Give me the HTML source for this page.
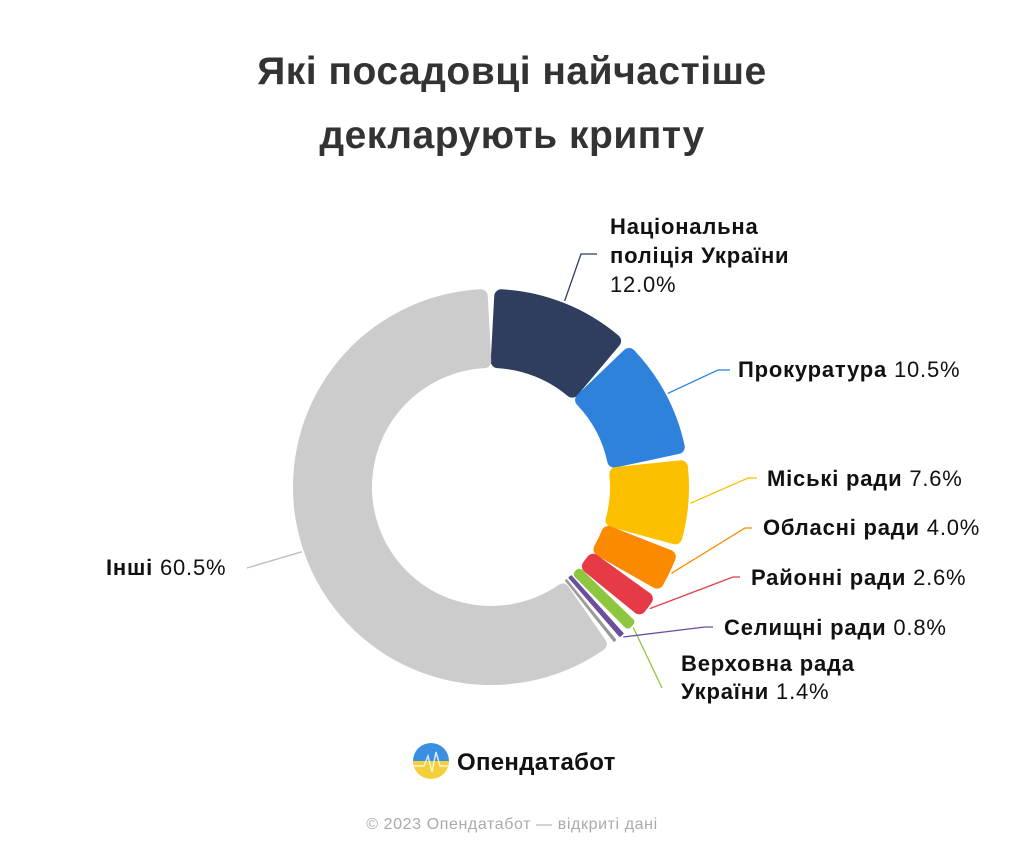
<!DOCTYPE html>
<html><head><meta charset="utf-8"><style>
body{margin:0;background:#fff;}
svg text{font-family:"Liberation Sans","DejaVu Sans",sans-serif;}
</style></head><body>
<svg id="chart" width="1024" height="853" viewBox="0 0 1024 853" xmlns="http://www.w3.org/2000/svg">
<rect width="1024" height="853" fill="#fff"/>
<text x="512" y="84" text-anchor="middle" font-size="39" font-weight="bold" fill="#333" letter-spacing="0.5">Які посадовці найчастіше</text>
<text x="512" y="148" text-anchor="middle" font-size="39" font-weight="bold" fill="#333" letter-spacing="0.5">декларують крипту</text>
<g id="slices"></g>
<g id="labels" font-size="22" letter-spacing="0.8" fill="#111"></g>
<g>
<defs><linearGradient id="lg" x1="0" y1="0" x2="0" y2="1"><stop offset="0.5" stop-color="#3a8fe0"/><stop offset="0.5" stop-color="#f5cf3a"/></linearGradient></defs>
<circle cx="431" cy="761" r="18" fill="url(#lg)"/>
<polyline points="414,766 424,766 428,756 432,772 436,752 440,766 448,766" fill="none" stroke="#fff" stroke-width="1.5" opacity="0.8"/>
<text x="457" y="770" font-size="24" font-weight="bold" fill="#111" letter-spacing="0.3">Опендатабот</text>
</g>
<text x="512" y="829" text-anchor="middle" font-size="16" fill="#aaa" letter-spacing="0.6">© 2023 Опендатабот — відкриті дані</text>
</svg>
<script>
const categories = ["Національна поліція України","Прокуратура","Міські ради","Обласні ради","Районні ради","Верховна рада України","Селищні ради","Інше (мале)","Інші"];
const values = [12.0,10.5,7.6,4.0,2.6,1.4,0.8,0.6,60.5];
const valueLabels = ["12.0%","10.5%","7.6%","4.0%","2.6%","1.4%","0.8%","","60.5%"];
const colors = ["#2f3d5e","#2f82db","#fcc000","#fb8a00","#e63b47","#8dc63f","#6b4f9e","#999999","#cccccc"];
const cx=491, cy=487, R=198, r0=119;
const svgNS="http://www.w3.org/2000/svg";
const g=document.getElementById('slices');
const total=values.reduce((a,b)=>a+b,0);
function pt(rad,a){return [cx+rad*Math.sin(a), cy-rad*Math.cos(a)];}
let acc=0;
const mids=[];
values.forEach((v,i)=>{
  const a0=acc/total*2*Math.PI, a1=(acc+v)/total*2*Math.PI; acc+=v;
  mids.push((a0+a1)/2);
  const midR=(R+r0)/2;
  const arcLen=(a1-a0)*midR;
  const sw=Math.max(1,Math.min(14,arcLen-6));
  const h=sw/2;
  let b0=a0+(h+1.5)/midR, b1=a1-(h+1.5)/midR;
  if(b1<b0){const m=(a0+a1)/2;b0=m-0.0005;b1=m+0.0005;}
  const ro=R-h, ri=r0+h;
  const large=(b1-b0)>Math.PI?1:0;
  const p1=pt(ro,b0),p2=pt(ro,b1),p3=pt(ri,b1),p4=pt(ri,b0);
  const d=`M${p1[0]},${p1[1]} A${ro},${ro} 0 ${large} 1 ${p2[0]},${p2[1]} L${p3[0]},${p3[1]} A${ri},${ri} 0 ${large} 0 ${p4[0]},${p4[1]} Z`;
  const p=document.createElementNS(svgNS,'path');
  p.setAttribute('d',d);p.setAttribute('fill',colors[i]);p.setAttribute('stroke',colors[i]);
  p.setAttribute('stroke-width',sw);p.setAttribute('stroke-linejoin','round');
  
  
  g.appendChild(p);
});
const labelLayout=[
 {lines:["Національна","поліція України"],x:610,y:234,lh:29,pctNewLine:true,elbow:[[581,254],[597,254]]},
 {lines:["Прокуратура"],x:738,y:377,lh:0,elbow:[[718,370],[730,370]]},
 {lines:["Міські ради"],x:767,y:486,lh:0,elbow:[[748,478],[757,478]]},
 {lines:["Обласні ради"],x:763,y:535,lh:0,elbow:[[745,528],[752,528]]},
 {lines:["Районні ради"],x:751,y:585,lh:0,elbow:[[733,577],[740,577]]},
 {lines:["Верховна рада","України"],x:681,y:671,lh:28,elbow:[[662,688],[662,688]]},
 {lines:["Селищні ради"],x:724,y:635,lh:0,elbow:[[705,627],[713,627]]},
 null,
 {lines:["Інші"],x:106,y:575,lh:0,elbow:[[247,568],[247,568]]}
];
const lg=document.getElementById('labels');
labelLayout.forEach((L,i)=>{
  if(!L)return;
  const s=pt(R+2,mids[i]);
  const pl=document.createElementNS(svgNS,'polyline');
  pl.setAttribute('points',[s,...L.elbow].map(q=>q.join(',')).join(' '));
  pl.setAttribute('fill','none');pl.setAttribute('stroke',colors[i]==="#cccccc"?"#bbb":colors[i]);pl.setAttribute('stroke-width','1.3');
  
  
  lg.appendChild(pl);
  const t=document.createElementNS(svgNS,'text');
  
  
  L.lines.forEach((ln,k)=>{
    const ts=document.createElementNS(svgNS,'tspan');
    ts.setAttribute('x',L.x);ts.setAttribute('y',L.y+k*L.lh);
    ts.setAttribute('font-weight','bold');ts.textContent=ln;
    t.appendChild(ts);
  });
  const pc=document.createElementNS(svgNS,'tspan');
  if(L.pctNewLine){pc.setAttribute('x',L.x);pc.setAttribute('y',L.y+L.lines.length*L.lh);pc.textContent=valueLabels[i];}
  else pc.textContent=' '+valueLabels[i];
  t.appendChild(pc);
  lg.appendChild(t);
});
</script>
</body></html>
